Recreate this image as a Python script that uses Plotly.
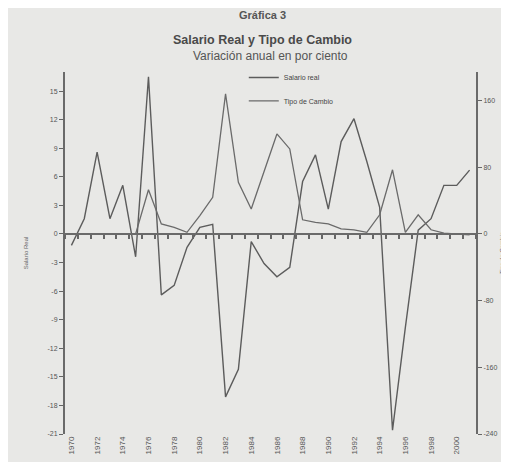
import plotly.graph_objects as go

# years on the category axis
years = list(range(1970, 2002))

# Salario real, variacion anual % (eje izquierdo)
salario = [-1.2, 1.6, 8.6, 1.6, 5.1, -2.4, 16.5, -6.4, -5.4, -1.4,
           0.7, 1.0, -17.1, -14.2, -0.8, -3.1, -4.5, -3.5, 5.5, 8.3,
           2.6, 9.7, 12.1, 7.6, 2.8, -20.6, -9.8, 0.4, 1.6, 5.1,
           5.1, 6.7]

# Tipo de cambio, variacion anual % (eje derecho)
tipo_cambio = [0, 0, 0, 0, 0, 0, 53, 12, 8, 2,
               22, 44, 168, 62, 30, 74, 120, 102, 17, 14,
               12, 6, 5, 2, 23, 77, 2, 23, 5, 1,
               0, -1]

left_ticks = [-21, -18, -15, -12, -9, -6, -3, 0, 3, 6, 9, 12, 15]
right_ticks = [-240, -160, -80, 0, 80, 160]
x_labels = list(range(1970, 2001, 2))

left_range = [-21, 17]
right_range = [-240, 17 * 240 / 21]

ink = "#5c5c5c"
font = "Liberation Sans"

fig = go.Figure()
fig.add_trace(go.Scatter(x=years, y=salario, mode="lines", name="Salario real",
                         legend="legend", line=dict(color=ink, width=1.4)))
fig.add_trace(go.Scatter(x=years, y=tipo_cambio, mode="lines", name="Tipo de Cambio",
                         legend="legend2", yaxis="y2", line=dict(color="#6a6a6a", width=1.3)))

zero_pos = -left_range[0] / (left_range[1] - left_range[0])
leg = dict(xanchor="left", yanchor="middle", bgcolor="rgba(0,0,0,0)",
           font=dict(size=7, color="#444"), itemwidth=30)

fig.update_layout(
    width=509, height=462,
    margin=dict(l=57, r=41, t=64, b=36),
    paper_bgcolor="#e8e8e6", plot_bgcolor="rgba(0,0,0,0)",
    font=dict(family=font, color="#555"),
    showlegend=True,
    legend=dict(x=0.435, y=0.985, **leg),
    legend2=dict(x=0.435, y=0.92, **leg),
    xaxis=dict(range=[1969.5, 2001.5], tickvals=x_labels, ticktext=[str(v) for v in x_labels],
               tickangle=-90, tickfont=dict(size=8, color="#555"), ticks="",
               showline=False, showgrid=False, zeroline=False, automargin=False),
    xaxis2=dict(overlaying="x", matches="x", anchor="free", position=zero_pos,
                tickmode="linear", tick0=1969.5, dtick=1, ticks="outside", ticklen=4,
                tickcolor="#666", tickwidth=1.5, showticklabels=False,
                showline=True, linecolor="#6a6a6a", linewidth=2, showgrid=False),
    yaxis=dict(range=left_range, tickvals=left_ticks, ticktext=[str(v) for v in left_ticks],
               tickfont=dict(size=7, color="#555"), ticks="outside", ticklen=4,
               tickcolor="#666", showline=True, linecolor="#6a6a6a", linewidth=2,
               showgrid=False, zeroline=False, automargin=False,
               title=dict(text="Salario Real", font=dict(size=6, color="#666"), standoff=18)),
    yaxis2=dict(range=right_range, overlaying="y", side="right",
                tickvals=right_ticks, ticktext=[str(v) for v in right_ticks],
                tickfont=dict(size=7, color="#555"), ticks="outside", ticklen=4,
                tickcolor="#666", showline=True, linecolor="#6a6a6a", linewidth=2,
                showgrid=False, zeroline=False,
                title=dict(text="Tipo de Cambio", font=dict(size=6, color="#666"), standoff=3)),
    annotations=[
        dict(text="<b>Gráfica 3</b>", x=0.48, y=1.0, xref="paper", yref="paper",
             yshift=65, showarrow=False, font=dict(size=11, color="#555", family=font)),
        dict(text="<b>Salario Real y Tipo de Cambio</b>", x=0.48, y=1.0, xref="paper",
             yref="paper", yshift=41, showarrow=False,
             font=dict(size=12.5, color="#4a4a4a", family=font)),
        dict(text="Variación anual en por ciento", x=0.5, y=1.0, xref="paper",
             yref="paper", yshift=25, showarrow=False,
             font=dict(size=12, color="#555", family=font)),
    ],
)

# dummy trace so xaxis2 (zero line with ticks) is drawn
fig.add_trace(go.Scatter(x=[years[0]], y=[0], xaxis="x2", mode="markers",
                         marker=dict(opacity=0), showlegend=False, hoverinfo="skip"))

fig.write_html("out.html")
